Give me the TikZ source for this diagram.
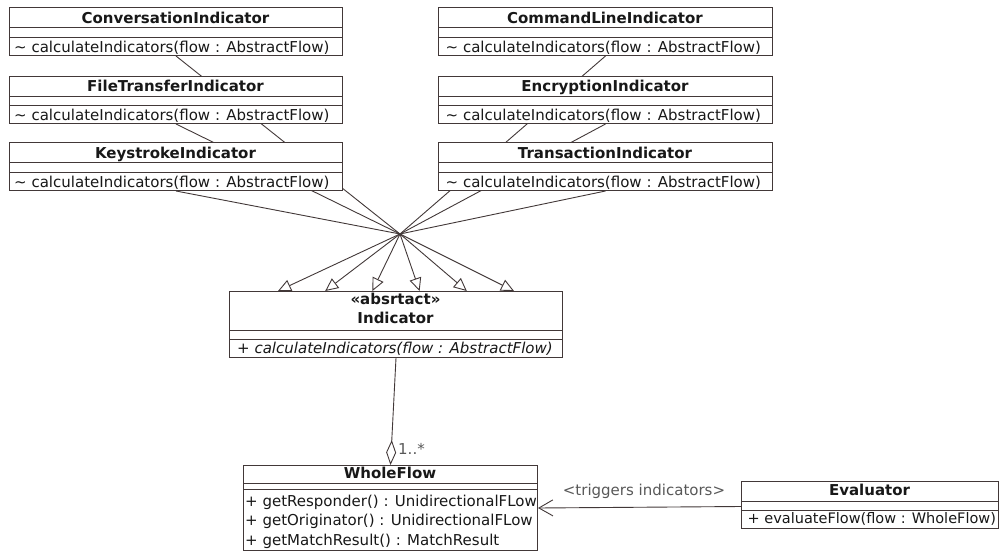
\documentclass[tikz,border=0pt]{standalone}
\usepackage{fontspec}
\setmainfont{DejaVu Sans}
\usetikzlibrary{arrows.meta,backgrounds}

\definecolor{edge}{RGB}{66,56,56}
\definecolor{ink}{RGB}{24,24,24}
\definecolor{note}{RGB}{88,88,88}

% class frame: name, x, y (top left), width, height, offsets of the two compartment rules
\newcommand{\classframe}[7]{%
  \node[classbox, minimum width=#4pt, minimum height=#5pt] (#1) at (#2,#3) {};
  \draw[compart] ([yshift=-#6pt]#1.north west) -- ([yshift=-#6pt]#1.north east);
  \draw[compart] ([yshift=-#7pt]#1.north west) -- ([yshift=-#7pt]#1.north east);
}

\begin{document}
\begin{tikzpicture}[x=1pt,y=-1pt,
  font=\fontsize{15}{18}\selectfont,
  classbox/.style={draw=edge, fill=white, line width=1pt, inner sep=0pt, anchor=north west},
  compart/.style={draw=edge, line width=1pt},
  title/.style={anchor=base, inner sep=0pt, text=ink, font=\fontsize{15}{18}\selectfont\bfseries},
  member/.style={anchor=base west, inner sep=0pt, text=ink},
  label/.style={anchor=base west, inner sep=0pt, text=note},
  gen/.style={draw=edge, line width=0.9pt, -{Triangle[fill=white,length=13pt,width=12pt]}},
  agg/.style={draw=edge, line width=0.9pt, -{Diamond[fill=white,length=25pt,width=10pt]}},
  assoc/.style={draw=edge, line width=0.9pt, -{Straight Barb[length=14pt,width=16pt]}}
]
\useasboundingbox (0,0) rectangle (999,551);

% ---- subclasses, left column
\classframe{conv}{9}{7}{333}{48}{21}{30.5}
\node[title] (conv-t) at (175.5,23.3) {ConversationIndicator};
\node[member] (conv-m) at (14,52.7) {\textasciitilde\ calculateIndicators(flow : AbstractFlow)};

\classframe{ft}{9}{76}{333}{47}{20}{29.5}
\node[title] (ft-t) at (175.5,92) {FileTransferIndicator};
\node[member] (ft-m) at (14,121) {\textasciitilde\ calculateIndicators(flow : AbstractFlow)};

\classframe{ks}{9}{142}{333}{48}{20}{30}
\node[title] (ks-t) at (175.5,158) {KeystrokeIndicator};
\node[member] (ks-m) at (14,187.5) {\textasciitilde\ calculateIndicators(flow : AbstractFlow)};

% ---- subclasses, right column
\classframe{cmd}{438}{7}{334}{48}{21}{30.5}
\node[title] (cmd-t) at (605,23.3) {CommandLineIndicator};
\node[member] (cmd-m) at (445.5,52.7) {\textasciitilde\ calculateIndicators(flow : AbstractFlow)};

\classframe{enc}{438}{76}{334}{47}{20}{29.5}
\node[title] (enc-t) at (605,92) {EncryptionIndicator};
\node[member] (enc-m) at (445.5,121) {\textasciitilde\ calculateIndicators(flow : AbstractFlow)};

\classframe{trans}{438}{142}{334}{48}{20}{30}
\node[title] (trans-t) at (605,158) {TransactionIndicator};
\node[member] (trans-m) at (445.5,187.5) {\textasciitilde\ calculateIndicators(flow : AbstractFlow)};

% ---- abstract base class
\classframe{ind}{229}{291}{333}{66}{39}{48}
\node[title] (ind-s) at (395.5,304) {«absrtact»};
\node[title] (ind-t) at (395.5,323.3) {Indicator};
\node[member, font=\fontsize{15}{18}\selectfont\itshape] (ind-m) at (237,353) {+ calculateIndicators(flow : AbstractFlow)};

% ---- aggregate
\classframe{whole}{243}{465}{294}{85}{18}{24}
\node[title] (whole-t) at (390,478) {WholeFlow};
\node[member] (whole-m1) at (245,506) {+ getResponder() : UnidirectionalFLow};
\node[member] (whole-m2) at (245,525.5) {+ getOriginator() : UnidirectionalFLow};
\node[member] (whole-m3) at (245,545) {+ getMatchResult() : MatchResult};

% ---- evaluator
\classframe{eval}{741}{481}{257}{47}{20}{29}
\node[title] (eval-t) at (869.5,495) {Evaluator};
\node[member, font=\fontsize{14.5}{18}\selectfont] (eval-m) at (747.5,523) {+ evaluateFlow(flow : WholeFlow)};

% ---- connectors, kept behind the class boxes
\coordinate (hub) at (400,234);
\foreach \i/\dx in {1/-118,2/-70.8,3/-23.6,4/23.6,5/70.8,6/118}
  \coordinate (tip\i) at ([xshift=\dx pt]ind.north);

\begin{scope}[on background layer]
  \draw[gen] (ks.south)    -- (hub) -- (tip1);
  \draw[gen] (ft.south)    -- (hub) -- (tip2);
  \draw[gen] (conv.south)  -- (hub) -- (tip3);
  \draw[gen] (cmd.south)   -- (hub) -- (tip4);
  \draw[gen] (enc.south)   -- (hub) -- (tip5);
  \draw[gen] (trans.south) -- (hub) -- (tip6);
\end{scope}

\draw[agg] (ind.south) -- (whole.north);
\node[label] (mult) at (398,454) {1..*};

\draw[assoc] ([yshift=-1.5pt]eval.west) -- (whole.east);
\node[label, anchor=base] (trig) at (644,495.5) {<triggers indicators>};
\end{tikzpicture}
\end{document}
